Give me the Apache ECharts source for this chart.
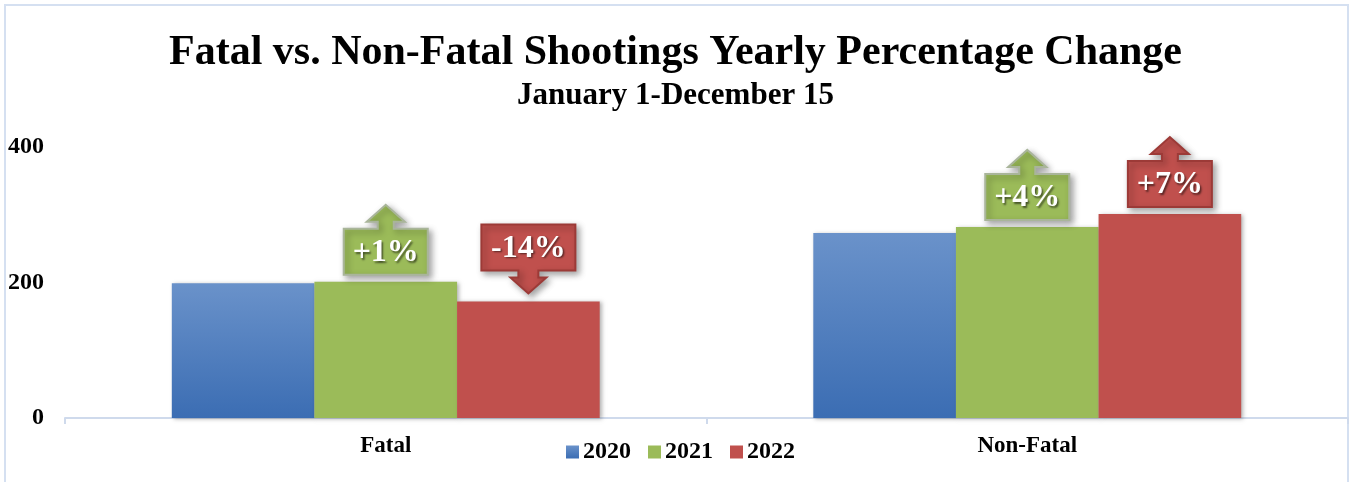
<!DOCTYPE html>
<html>
<head>
<meta charset="utf-8">
<script src="https://cdn.jsdelivr.net/npm/echarts@6/dist/echarts.min.js"></script>
<style>
html,body{margin:0;padding:0;background:#fff;}
#chart{width:1351px;height:482px;}
</style>
</head>
<body>
<div id="chart"></div>
<script>
var categories = ['Fatal', 'Non-Fatal'];
var years = ['2020', '2021', '2022'];
var values2020 = [199, 273];
var values2021 = [201, 282];
var values2022 = [172, 301];
var change2021 = ['+1%', '+4%'];
var change2022 = ['-14%', '+7%'];
var yTicks = [0, 200, 400];

var FONT = '"Liberation Serif", "Times New Roman", serif';

var calloutData = [];
for (var i = 0; i < categories.length; i++) {
  calloutData.push([i, values2021[i], 0, change2021[i], 'g']);
  calloutData.push([i, values2022[i], 1, change2022[i], 'r']);
}

function renderCallout(params, api) {
  var cat = api.value(0);
  var val = api.value(1);
  var slot = api.value(2); // 0 -> 2021 bar, 1 -> 2022 bar
  var txt = calloutData[params.dataIndex][3];
  var col = calloutData[params.dataIndex][4];
  var p = api.coord([cat, val]);
  var catW = api.size([1, 0])[0];
  var barW = catW * (1 - 0.333) / 3;
  var cx = p[0] + slot * barW;
  var ty = p[1];
  var up = txt.charAt(0) === '+';
  var w = 54 + 10 * txt.length;
  var h = 46;
  var bx0 = cx - w / 2, bx1 = cx + w / 2;
  var pts, top, bottom;
  if (up) {
    bottom = ty - 7;
    top = bottom - h;
    pts = [[bx0, bottom], [bx1, bottom], [bx1, top], [cx + 8, top], [cx + 8, top - 7], [cx + 19, top - 7],
      [cx, top - 24], [cx - 19, top - 7], [cx - 8, top - 7], [cx - 8, top], [bx0, top]];
  } else {
    var tip = ty - 8;
    bottom = tip - 23;
    top = bottom - h;
    pts = [[bx0, top], [bx1, top], [bx1, bottom], [cx + 10, bottom], [cx + 10, tip - 16], [cx + 18, tip - 16],
      [cx, tip], [cx - 18, tip - 16], [cx - 10, tip - 16], [cx - 10, bottom], [bx0, bottom]];
  }
  var fill = col === 'g' ? '#9bbb59' : '#c0504d';
  var stroke = col === 'g' ? '#a9b59a' : '#9c3a37';
  return {
    type: 'group',
    children: [
      {
        type: 'polygon',
        shape: { points: pts },
        style: {
          fill: fill, stroke: stroke, lineWidth: 2,
          shadowBlur: 6, shadowOffsetX: 3, shadowOffsetY: 3, shadowColor: 'rgba(0,0,0,0.35)'
        }
      },
      {
        type: 'text',
        x: cx, y: (top + bottom) / 2 + 1,
        style: {
          text: txt, fill: '#ffffff', font: 'bold 32px ' + FONT,
          align: 'center', verticalAlign: 'middle',
          textShadowBlur: 2, textShadowOffsetX: 1.5, textShadowOffsetY: 1.5, textShadowColor: 'rgba(0,0,0,0.55)'
        }
      }
    ]
  };
}

var barShadow = { shadowBlur: 4, shadowOffsetX: 2, shadowOffsetY: 1, shadowColor: 'rgba(0,0,0,0.3)' };

var chart = echarts.init(document.getElementById('chart'));
chart.setOption({
  backgroundColor: '#ffffff',
  animation: false,
  title: {
    text: 'Fatal vs. Non-Fatal Shootings Yearly Percentage Change',
    subtext: 'January 1-December 15',
    left: 'center',
    top: 27,
    itemGap: 6,
    textStyle: { fontFamily: FONT, fontWeight: 'bold', fontSize: 42, color: '#000' },
    subtextStyle: { fontFamily: FONT, fontWeight: 'bold', fontSize: 31, color: '#000' }
  },
  legend: {
    data: years,
    left: 561,
    top: 435,
    itemWidth: 13,
    itemHeight: 13,
    itemGap: 17,
    textStyle: { fontFamily: FONT, fontWeight: 'bold', fontSize: 24, color: '#000', padding: [0, 0, 0, -1] },
    icon: 'rect'
  },
  graphic: [{
    type: 'rect',
    shape: { x: 5, y: 5, width: 1343, height: 490 },
    style: { fill: 'none', stroke: '#d5e0f1', lineWidth: 2 },
    silent: true
  }],
  grid: { left: 65, right: 3, top: 147, bottom: 64 },
  xAxis: {
    type: 'category',
    data: categories,
    axisLine: { lineStyle: { color: '#cfdaec', width: 2 } },
    axisTick: { show: true, length: 6, lineStyle: { color: '#cfdaec', width: 2 } },
    axisLabel: { fontFamily: FONT, fontWeight: 'bold', fontSize: 23, color: '#000', margin: 17 },
    splitLine: { show: false }
  },
  yAxis: {
    type: 'value',
    min: 0, max: 400, interval: 200,
    axisLine: { show: false },
    axisTick: { show: false },
    splitLine: { show: false },
    axisLabel: {
      fontFamily: FONT, fontWeight: 'bold', fontSize: 24, color: '#000', margin: 21,
      formatter: function (v) { return yTicks.indexOf(v) >= 0 ? String(v) : ''; }
    }
  },
  series: [
    {
      name: '2020', type: 'bar', data: values2020, barGap: '0%', barCategoryGap: '33.3%',
      itemStyle: Object.assign({
        color: new echarts.graphic.LinearGradient(0, 0, 0, 1, [
          { offset: 0, color: '#6a92ca' }, { offset: 1, color: '#3b6db3' }
        ])
      }, barShadow)
    },
    {
      name: '2021', type: 'bar', data: values2021, barGap: '0%', barCategoryGap: '33.3%',
      itemStyle: Object.assign({ color: '#9bbb59' }, barShadow)
    },
    {
      name: '2022', type: 'bar', data: values2022, barGap: '0%', barCategoryGap: '33.3%',
      itemStyle: Object.assign({ color: '#c0504d' }, barShadow)
    },
    {
      type: 'custom', name: 'callouts', renderItem: renderCallout, data: calloutData,
      encode: { x: 0, y: 1 }, z: 5, silent: true, tooltip: { show: false }
    }
  ]
});
</script>
</body>
</html>
